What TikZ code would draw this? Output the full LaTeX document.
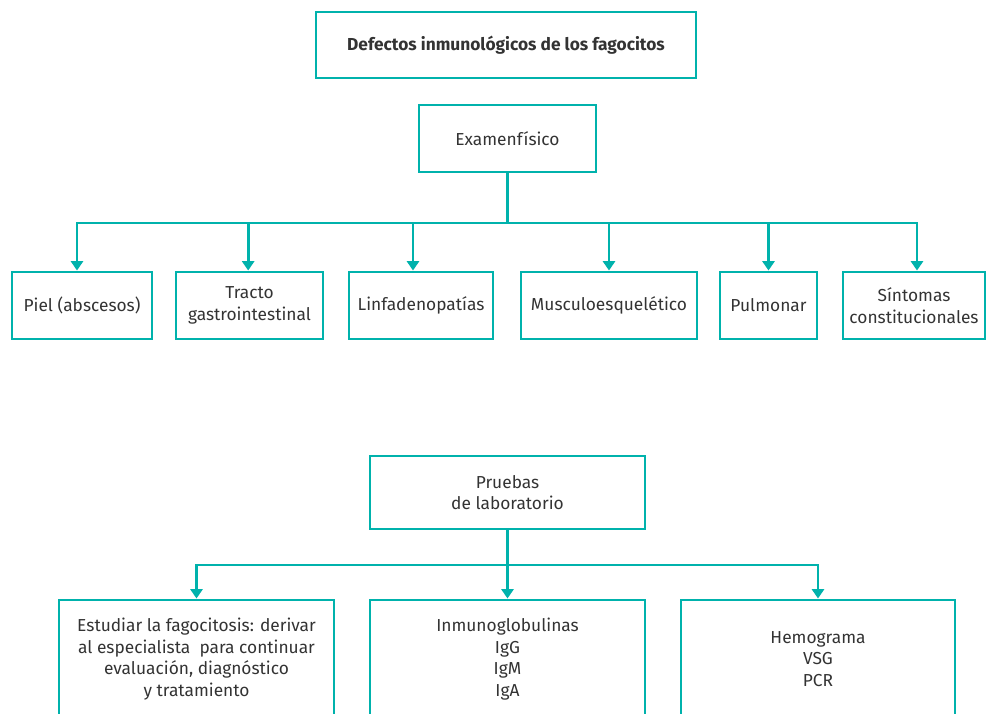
\documentclass[tikz,border=0pt]{standalone}
\usepackage{fontspec}
\setmainfont{Fira Sans}
\usetikzlibrary{arrows.meta,calc}
\definecolor{verdeazul}{HTML}{00B2AC}
\definecolor{texto}{HTML}{333333}
\tikzset{
  caja/.style={draw=verdeazul, line width=2.2pt, align=center, text=texto, inner sep=0pt},
  enlace/.style={draw=verdeazul, line width=2.2pt},
}
\begin{document}
\begin{tikzpicture}[x=0.75pt, y=-0.75pt, font=\fontsize{13}{16.2}\selectfont, >={Triangle[width=9pt,length=7pt]}]
	\useasboundingbox (0,0) rectangle (986,714);
	\clip (0,0) rectangle (986,714);
	% cabecera
	\node[caja, minimum width=285pt, minimum height=49.5pt, font=\fontsize{13}{16.2}\selectfont\bfseries] (titulo) at (506,45) {Defectos inmunológicos de los fagocitos};
	\node[caja, minimum width=132.75pt, minimum height=50.25pt] (examen) at (507.5,138.5) {Examenfísico};
	\coordinate (bus) at (507.5,223);
	% hallazgos del examen
	\node[caja, minimum width=105pt, minimum height=50.25pt] (piel) at (82,305.5) {Piel (abscesos)};
	\node[caja, minimum width=110.25pt, minimum height=50.25pt] (tracto) at (249.5,305.5) {Tracto\\gastrointestinal};
	\node[caja, minimum width=108pt, minimum height=50.25pt] (linfa) at (421,305.5) {Linfadenopatías};
	\node[caja, minimum width=132pt, minimum height=50.25pt] (musculo) at (609,305.5) {Musculoesquelético};
	\node[caja, minimum width=72.75pt, minimum height=50.25pt] (pulmonar) at (768.5,305.5) {Pulmonar};
	\node[caja, minimum width=106.5pt, minimum height=50.25pt] (sintomas) at (914,305.5) {Síntomas\\constitucionales};
	\draw[enlace] (examen) -- (bus);
	\draw[enlace,->] (bus) -| ([xshift=-3.75pt]piel.north);
	\draw[enlace,->] (bus) -| ([xshift=-1pt]tracto.north);
	\draw[enlace,->] (bus) -| ([xshift=-6pt]linfa.north);
	\draw[enlace,->] (bus) -| (musculo.north);
	\draw[enlace,->] (bus) -| (pulmonar.north);
	\draw[enlace,->] (bus) -| ([xshift=2.25pt]sintomas.north);
	% pruebas de laboratorio
	\node[caja, minimum width=206.25pt, minimum height=54.75pt] (pruebas) at (507.5,492.5) {Pruebas\\de laboratorio};
	\coordinate (bus2) at (507.5,565);
	\node[caja, minimum width=206.25pt, minimum height=88.5pt] (fagocitosis) at (196.5,659) {Estudiar la fagocitosis: derivar\\al especialista\ \ para continuar\\evaluación, diagnóstico\\y tratamiento};
	\node[caja, minimum width=206.25pt, minimum height=88.5pt] (inmuno) at (507.5,659) {Inmunoglobulinas\\IgG\\IgM\\IgA};
	\node[caja, minimum width=205.5pt, minimum height=88.5pt] (hemograma) at (818,659) {Hemograma\\VSG\\PCR};
	\draw[enlace] (pruebas) -- (bus2);
	\draw[enlace,->] (bus2) -| (fagocitosis.north);
	\draw[enlace,->] (bus2) -- (inmuno.north);
	\draw[enlace,->] (bus2) -| (hemograma.north);
\end{tikzpicture}
\end{document}
